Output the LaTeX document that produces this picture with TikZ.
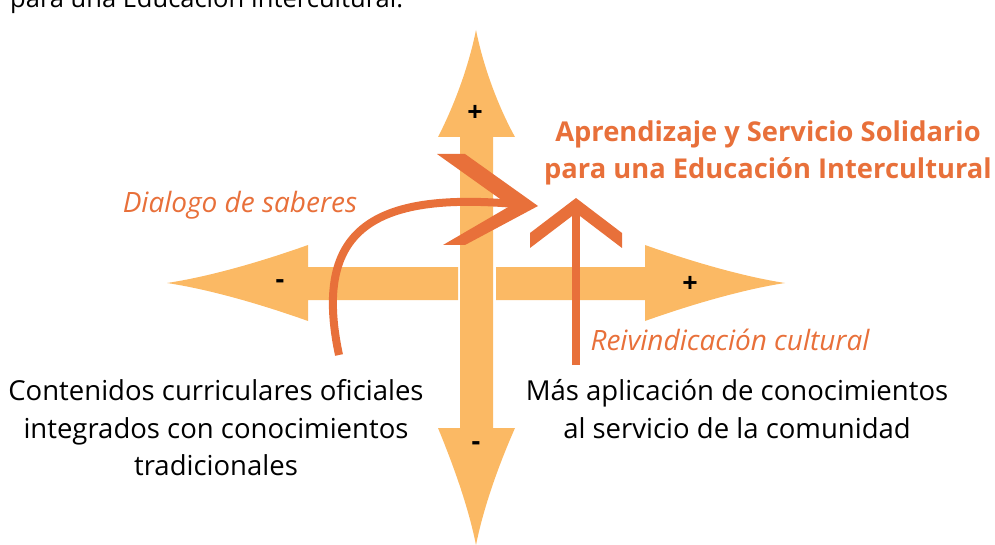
\documentclass[tikz,border=0pt]{standalone}
\usepackage{fontspec}
\setmainfont{Open Sans}
\definecolor{lightorange}{HTML}{FBB964}
\definecolor{darkorange}{HTML}{E8703A}

\begin{document}
\begin{tikzpicture}[x=1pt, y=-1pt,
    bigarrow/.style={fill=lightorange},
    signtext/.style={font=\fontsize{27}{27}\selectfont\bfseries, inner sep=0pt},
    bodytext/.style={align=center, font=\fontsize{27.5}{37.5}\selectfont, inner sep=0pt},
    orangelabel/.style={text=darkorange, font=\fontsize{28}{30}\selectfont\itshape, inner sep=0pt},
    orangearrow/.style={draw=darkorange, line width=8pt}]
    \useasboundingbox (0,0) rectangle (995,545);

    % caption line cut by the top edge
    \node[anchor=base west, font=\fontsize{25.5}{30}\selectfont, inner sep=0pt] (caption) at (10,8) {para una Educación Intercultural.};

    % the cross of axes
    \fill[bigarrow] (460,137) -- (438,137) .. controls (452,110) and (468,70) .. (476,30)
        .. controls (484,70) and (500,110) .. (515,137) -- (493,137) -- (493,428) -- (515,428)
        .. controls (500,462) and (484,505) .. (476,545) .. controls (468,505) and (452,462) .. (438,428)
        -- (460,428) -- cycle;
    \fill[bigarrow] (458,267) -- (308,267) -- (308,245) .. controls (280,255) and (220,275) .. (167,283)
        .. controls (220,291) and (280,311) .. (308,321) -- (308,300) -- (458,300) -- cycle;
    \fill[bigarrow] (496,267) -- (645,267) -- (645,245) .. controls (673,255) and (733,275) .. (785,283)
        .. controls (733,291) and (673,311) .. (645,321) -- (645,300) -- (496,300) -- cycle;

    \node[signtext] (plusup) at (475,113) {+};
    \node[signtext] (minusleft) at (280,284) {-};
    \node[signtext] (plusright) at (690,284) {+};
    \node[signtext] (minusdown) at (476,446) {-};

    % texts
    \node[text=darkorange, font=\fontsize{27.3}{37}\selectfont\bfseries, align=center, inner sep=0pt] (title) at (768,153)
        {Aprendizaje y Servicio Solidario\\para una Educación Intercultural};
    \node[orangelabel] (dialogo) at (240,205) {Dialogo de saberes};
    \node[orangelabel] (reivind) at (730,340) {Reivindicación cultural};
    \node[bodytext] (contenidos) at (216,428) {Contenidos curriculares oficiales\\integrados con conocimientos\\tradicionales};
    \node[bodytext] (aplicacion) at (737,409) {Más aplicación de conocimientos\\al servicio de la comunidad};

    % orange arrows
    \coordinate (dialstart) at (339,355);
    \coordinate (dialend) at (515,204);
    \coordinate (dialtip) at (538,206);
    \draw[orangearrow] (dialstart) .. controls (312,228) and (375,192) .. (dialend);
    \fill[darkorange] (dialtip) -- ++(-73,-52) -- ++(-28,0) -- ++(73,52) -- ++(-67,39) -- ++(22,0) -- cycle;

    \coordinate (reivstart) at (576,365);
    \coordinate (reivend) at (576,208);
    \coordinate (reivtip) at (576,198);
    \draw[orangearrow] (reivstart) -- (reivend);
    \fill[darkorange] (reivtip) -- ++(-46,35) -- ++(0,15) -- ++(46,-35) -- ++(46,35) -- ++(0,-15) -- cycle;
\end{tikzpicture}
\end{document}
